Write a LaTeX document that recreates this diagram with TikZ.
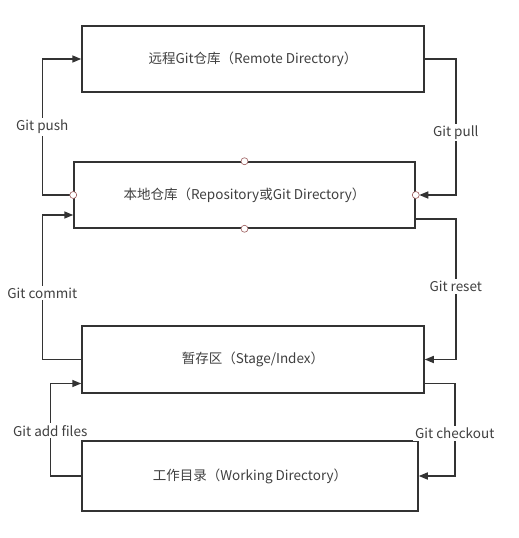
\documentclass[tikz,border=0pt]{standalone}
\usepackage{fontspec}
\setmainfont{Noto Sans CJK SC}
\usetikzlibrary{arrows.meta}
\definecolor{linegray}{HTML}{333333}
\definecolor{textgray}{HTML}{404040}
\definecolor{portred}{HTML}{9A5A5A}
\begin{document}
\begin{tikzpicture}[x=1pt,y=-1pt,
  box/.style={draw=linegray, line width=1.5pt, minimum height=66pt, inner sep=0pt, text=textgray, font=\fontsize{13.5}{15}\selectfont},
  flow/.style={draw=linegray, line width=1.5pt, -{Triangle[length=9pt,width=7pt]}},
  lbl/.style={fill=white, text=textgray, inner sep=2pt, font=\fontsize{13.5}{15}\selectfont},
  port/.style={draw=portred, fill=white, line width=0.6pt}]
\useasboundingbox[fill=white] (0,0) rectangle (519,538);

% the four areas
\node[box, minimum width=342pt] (remote) at (253,59) {远程Git仓库（Remote Directory）};
\node[box, minimum width=341pt] (local) at (244.5,195) {本地仓库（Repository或Git Directory）};
\node[box, minimum width=342pt, minimum height=67pt] (stage) at (253,359.5) {暂存区（Stage/Index）};
\node[box, minimum width=336pt, minimum height=70pt] (work) at (250,476) {工作目录（Working Directory）};

% left side: towards the remote
\draw[flow] (local.west) -- ++(-31,0) |- node[pos=0.25, lbl] {Git push} (remote.west);
\draw[flow] (stage.west) -- ++(-39,0) |- node[pos=0.23, lbl] {Git commit} ([yshift=-20pt]local.west);
\draw[flow] (work.west) -- ++(-31,0) |- node[pos=0.245, lbl] {Git add files} ([yshift=-24pt]stage.west);

% right side: back to the working copy
\draw[flow, shorten >=3.5pt] (remote.east) -- ++(31,0) |- node[pos=0.27, lbl] {Git pull} (local.east);
\draw[flow] ([yshift=-24pt]local.east) -- ++(40,0) |- node[pos=0.24, lbl] {Git reset} (stage.east);
\draw[flow] ([yshift=-24pt]stage.east) -- ++(30,0) |- node[pos=0.27, lbl] {Git checkout} (work.east);

% connection points
\foreach \p in {north,south,west,east}
  \draw[port] (local.\p) circle (3.5pt);
\end{tikzpicture}
\end{document}
